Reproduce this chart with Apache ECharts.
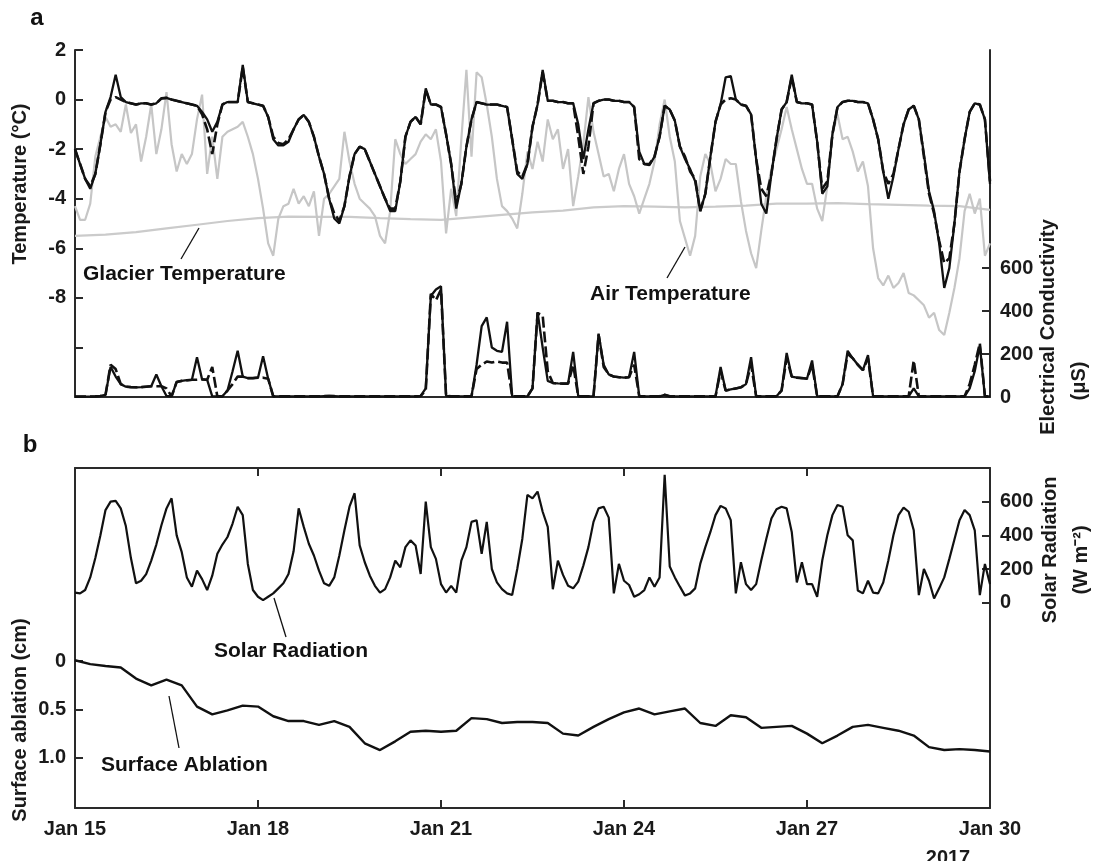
<!DOCTYPE html>
<html>
<head>
<meta charset="utf-8">
<script src="https://cdn.jsdelivr.net/npm/echarts@6/dist/echarts.min.js"></script>
<style>
html,body{margin:0;padding:0;background:#fff;}
#chart{width:1101px;height:861px;}
</style>
</head>
<body>
<div id="chart"></div>
<script>
// x positions in days after Jan 15 2017 00:00
const xTickLabels = ['Jan 15','Jan 18','Jan 21','Jan 24','Jan 27','Jan 30'];
const STEP_2H = 1/12, STEP_6H = 0.25, STEP_12H = 0.5;

// Panel a: temperature sensor (solid) every 2 h, degC
const tempSolid = [-2.0,-2.6,-3.2,-3.6,-3.0,-1.8,-0.5,0.1,1.0,0.1,
 -0.1,-0.15,-0.2,-0.15,-0.15,-0.2,-0.15,0.05,0.07,0.0,
 -0.05,-0.1,-0.15,-0.2,-0.25,-0.5,-0.8,-1.3,-0.9,-0.2,
 -0.1,-0.1,-0.1,1.4,-0.1,-0.15,-0.2,-0.25,-0.7,-1.6,
 -1.85,-1.85,-1.7,-1.2,-0.8,-0.62,-0.9,-1.5,-2.3,-3.0,
 -4.0,-4.8,-5.0,-4.3,-3.1,-2.2,-1.9,-2.0,-2.5,-3.0,
 -3.5,-4.0,-4.5,-4.5,-3.3,-1.5,-0.9,-0.7,-1.0,0.45,
 -0.2,-0.2,-0.3,-1.4,-2.6,-4.4,-3.4,-1.9,-0.8,-0.1,
 -0.15,-0.2,-0.2,-0.2,-0.25,-0.3,-1.6,-3.0,-3.2,-2.6,
 -1.1,-0.2,1.2,-0.05,-0.05,-0.1,-0.1,-0.15,-0.15,-1.0,
 -2.4,-1.2,-0.15,-0.05,0.0,0.0,-0.05,-0.05,-0.1,-0.1,
 -0.3,-2.1,-2.6,-2.65,-2.3,-1.5,-0.25,-0.4,-0.85,-1.9,
 -2.4,-2.8,-3.3,-4.5,-3.8,-2.3,-0.9,-0.2,0.9,0.95,
 0.0,-0.2,-0.25,-0.6,-2.4,-4.2,-4.6,-3.0,-1.6,-0.4,
 -0.1,1.0,-0.1,-0.15,-0.15,-0.2,-1.7,-3.8,-3.5,-1.4,
 -0.3,-0.1,-0.05,-0.05,-0.1,-0.1,-0.15,-0.8,-1.6,-2.9,
 -4.0,-3.1,-2.0,-1.0,-0.4,-0.25,-0.8,-2.2,-3.7,-4.5,
 -5.8,-7.6,-6.8,-5.0,-2.9,-1.6,-0.5,-0.15,-0.2,-0.8,
 -3.4];

// Panel a: temperature sensor (dashed) every 2 h, degC
const tempDashed = [-2.0,-2.6,-3.2,-3.5,-3.0,-1.8,-0.5,0.0,0.1,0.0,
 -0.1,-0.15,-0.2,-0.15,-0.15,-0.2,-0.15,0.05,0.07,0.0,
 -0.05,-0.1,-0.15,-0.2,-0.25,-0.6,-1.2,-2.2,-1.0,-0.2,
 -0.1,-0.1,-0.1,1.3,-0.1,-0.15,-0.2,-0.25,-0.7,-1.5,
 -1.75,-1.8,-1.6,-1.2,-0.8,-0.62,-0.9,-1.5,-2.3,-3.0,
 -4.0,-4.6,-4.9,-4.3,-3.1,-2.2,-1.9,-2.0,-2.5,-3.0,
 -3.5,-4.0,-4.4,-4.4,-3.3,-1.5,-0.9,-0.7,-1.0,0.4,
 -0.2,-0.2,-0.3,-1.4,-2.6,-4.2,-3.4,-1.9,-0.8,-0.1,
 -0.15,-0.2,-0.2,-0.2,-0.25,-0.3,-1.6,-2.9,-3.1,-2.6,
 -1.1,-0.2,1.1,-0.05,-0.05,-0.1,-0.1,-0.15,-0.15,-1.5,
 -3.0,-1.9,-0.15,-0.05,0.0,0.0,-0.05,-0.05,-0.1,-0.1,
 -0.3,-2.4,-2.6,-2.6,-2.3,-1.5,-0.25,-0.4,-0.85,-1.9,
 -2.3,-2.9,-3.2,-4.5,-3.8,-2.3,-0.9,-0.2,0.0,0.05,
 0.0,-0.2,-0.25,-0.6,-2.4,-3.6,-3.9,-3.0,-1.6,-0.4,
 -0.1,0.9,-0.1,-0.15,-0.15,-0.2,-1.7,-3.6,-3.3,-1.4,
 -0.3,-0.1,-0.05,-0.05,-0.1,-0.1,-0.15,-0.8,-1.6,-2.9,
 -3.4,-3.0,-2.0,-1.0,-0.4,-0.25,-0.8,-2.3,-3.8,-4.6,
 -5.7,-6.6,-6.4,-5.0,-2.9,-1.6,-0.5,-0.15,-0.2,-0.8,
 -3.3];

// Panel a: air temperature every 2 h, degC
const airTemp = [-4.3,-4.85,-4.85,-4.2,-2.3,-1.5,-0.7,-1.1,-1.0,-1.3,
 -0.2,-1.35,-1.0,-2.5,-1.5,-0.2,-2.2,-1.2,0.3,-1.8,
 -2.9,-2.2,-2.6,-2.2,-0.8,0.2,-3.0,-1.5,-3.2,-1.5,
 -1.3,-1.2,-1.1,-0.9,-1.5,-2.2,-3.2,-4.4,-5.8,-6.3,
 -4.8,-4.3,-4.2,-3.6,-4.2,-3.9,-4.3,-3.7,-5.5,-4.0,
 -3.8,-3.5,-3.2,-1.3,-2.5,-3.4,-4.0,-4.2,-4.4,-4.7,
 -5.5,-5.8,-4.5,-1.6,-2.2,-2.6,-2.4,-2.2,-1.7,-1.4,
 -1.6,-1.2,-2.5,-5.4,-3.6,-4.7,-1.6,1.2,-2.3,1.1,
 0.9,-0.2,-1.5,-3.2,-4.3,-4.5,-4.8,-5.2,-3.8,-2.1,
 -2.8,-1.7,-2.5,-0.8,-1.6,-1.2,-2.8,-2.0,-4.3,-3.1,
 -1.8,0.1,-1.3,-2.2,-3.1,-3.0,-3.7,-2.8,-2.2,-3.4,
 -3.9,-4.6,-4.0,-3.4,-2.5,-1.0,0.0,-1.5,-2.5,-4.9,
 -5.6,-6.3,-5.5,-3.1,-2.2,-2.6,-3.7,-3.2,-2.4,-2.6,
 -2.6,-4.1,-5.3,-6.2,-6.8,-5.3,-3.9,-2.8,-2.0,-1.2,
 -0.3,-1.2,-2.0,-2.8,-3.4,-3.4,-4.4,-4.9,-3.5,-1.4,
 -0.6,-1.6,-1.5,-2.1,-2.9,-2.5,-3.5,-6.0,-7.2,-7.5,
 -7.1,-7.6,-7.4,-7.0,-7.8,-7.9,-8.1,-8.3,-8.8,-8.6,
 -9.3,-9.5,-8.6,-7.6,-6.4,-4.5,-3.8,-4.6,-4.0,-6.3,
 -5.8];

// Panel a: glacier temperature every 12 h, degC
const glacierTemp = [-5.5,-5.45,-5.35,-5.2,-5.05,-4.9,-4.78,-4.72,-4.73,-4.73,
 -4.78,-4.82,-4.85,-4.75,-4.65,-4.55,-4.48,-4.35,-4.3,-4.32,
 -4.35,-4.32,-4.28,-4.2,-4.2,-4.18,-4.22,-4.25,-4.28,-4.3,
 -4.45];

// Panel a: electrical conductivity (solid) every 2 h, uS
const condSolid = [2,2,2,2,3,5,10,140,95,60,
 48,46,45,46,48,50,105,50,5,3,
 70,75,78,80,185,82,80,3,3,3,
 30,120,215,95,88,88,90,190,85,3,
 3,3,3,3,3,3,3,3,3,4,
 5,4,3,3,3,3,3,3,3,3,
 3,3,3,3,3,3,3,3,5,40,
 470,500,515,5,3,3,3,3,3,150,
 330,370,230,215,210,350,3,3,3,3,
 40,395,230,75,65,63,62,62,210,3,
 3,3,3,295,150,105,95,92,90,92,
 210,3,3,3,3,3,10,3,3,3,
 3,3,3,3,3,3,3,140,30,35,
 40,45,60,185,3,3,3,3,3,30,
 205,95,90,88,85,170,3,3,3,3,
 3,60,215,180,150,125,195,3,3,3,
 3,3,3,3,3,40,3,3,3,3,
 3,3,3,3,3,3,40,120,240,3,
 3];

// Panel a: electrical conductivity (dashed) every 2 h, uS
const condDashed = [2,2,2,2,3,5,10,150,130,60,
 48,46,45,46,48,50,50,50,40,3,
 70,75,78,80,80,82,80,140,3,3,
 30,60,95,95,88,88,90,90,85,3,
 3,3,3,3,3,3,3,3,3,4,
 5,4,3,3,3,3,3,3,3,3,
 3,3,3,3,3,3,3,3,5,30,
 480,450,500,5,3,3,3,3,3,130,
 150,165,160,165,160,160,3,3,3,3,
 40,390,380,120,65,63,62,62,150,3,
 3,3,3,290,140,105,95,92,90,92,
 150,3,3,3,3,3,10,3,3,3,
 3,3,3,3,3,3,3,120,30,35,
 40,45,60,150,3,3,3,3,3,30,
 180,95,90,88,85,150,3,3,3,3,
 3,60,200,180,150,125,180,3,3,3,
 3,3,3,3,3,170,3,3,3,3,
 3,3,3,3,3,3,60,150,250,3,
 3];

// Panel b: solar radiation every 2 h, W m-2
const solarRad = [60,55,75,150,265,400,550,600,605,560,
 455,265,115,130,170,250,345,460,560,620,
 400,300,150,95,190,140,75,160,290,345,
 390,470,570,520,230,75,35,15,35,55,
 85,115,170,305,560,450,350,280,190,115,
 100,150,280,430,570,650,340,240,160,100,
 60,80,150,250,210,330,370,340,170,600,
 330,260,110,60,100,60,250,330,480,490,
 290,480,200,120,80,55,45,200,380,640,
 620,660,540,450,80,250,165,100,85,125,
 220,330,480,560,570,505,55,230,130,105,
 35,50,75,150,95,150,760,215,150,95,
 42,55,85,230,330,420,520,575,560,490,
 55,240,110,75,110,250,380,500,555,570,
 560,420,120,240,110,110,35,250,400,520,
 580,570,400,370,72,55,130,60,55,120,
 250,400,520,565,540,430,45,200,130,25,
 85,150,260,375,490,550,520,430,45,230,
 110];

// Panel b: surface ablation every 6 h, cm
const ablation = [-0.01,0.03,0.05,0.065,0.18,0.25,0.19,0.25,0.47,0.55,
 0.51,0.46,0.47,0.57,0.62,0.62,0.66,0.62,0.68,0.85,
 0.92,0.83,0.73,0.72,0.73,0.72,0.59,0.6,0.64,0.63,
 0.63,0.64,0.75,0.77,0.68,0.6,0.53,0.49,0.55,0.52,
 0.49,0.64,0.67,0.56,0.58,0.69,0.68,0.67,0.75,0.85,
 0.77,0.68,0.66,0.69,0.72,0.77,0.89,0.92,0.91,0.92,
 0.935];

const tempLabelVals = [2,0,-2,-4,-6,-8];
const tempTickVals = [2,0,-2,-4,-6,-8,-10];
const condTickVals = [0,200,400,600];
const solarTickVals = [0,200,400,600];
const ablTickVals = [0,0.5,1.0];

function pairs(vals, step){ return vals.map((v,i)=>[i*step, v]); }

const FONT = "'Liberation Sans', Arial, Helvetica, sans-serif";
const AX = '#2a2a2a';
const lab = {fontFamily: FONT, fontWeight:'bold', fontSize:20, color:'#1a1a1a'};
const axLine = {show:true, onZero:false, lineStyle:{color:AX, width:2}};

function line(name, data, xi, yi, color, width, type, z){
  return {name, type:'line', data, xAxisIndex:xi, yAxisIndex:yi, showSymbol:false, symbol:'none',
    lineStyle:{color, width, type}, z: z||2, animation:false};
}

const chart = echarts.init(document.getElementById('chart'), null, {renderer:'canvas'});
const option = {
  animation:false,
  backgroundColor:'#fff',
  grid:[
    {left:75, right:111, top:50, bottom:464},
    {left:75, right:111, top:468, bottom:53}
  ],
  xAxis:[
    {gridIndex:0, type:'value', min:0, max:15, interval:3, axisLine:axLine,
     axisTick:{show:false}, axisLabel:{show:false}, splitLine:{show:false}},
    {gridIndex:1, type:'value', min:0, max:15, interval:3, position:'bottom', axisLine:axLine,
     axisTick:{show:true, inside:true, length:8, lineStyle:{color:AX, width:2}},
     axisLabel:Object.assign({margin:11, formatter:(v)=>xTickLabels[Math.round(v/3)]}, lab),
     splitLine:{show:false}},
    {gridIndex:1, type:'value', min:0, max:15, interval:3, position:'top', axisLine:axLine,
     axisTick:{show:true, inside:true, length:8, lineStyle:{color:AX, width:2}},
     axisLabel:{show:false}, splitLine:{show:false}}
  ],
  yAxis:[
    {gridIndex:0, type:'value', position:'left', min:-12, max:2, interval:2, axisLine:axLine,
     axisTick:{show:true, inside:true, length:8, customValues:tempTickVals, lineStyle:{color:AX, width:2}},
     axisLabel:Object.assign({margin:9, customValues:tempLabelVals}, lab), splitLine:{show:false}},
    {gridIndex:0, type:'value', position:'right', min:0, max:1614, axisLine:axLine,
     axisTick:{show:true, inside:true, length:8, customValues:condTickVals, lineStyle:{color:AX, width:2}},
     axisLabel:Object.assign({margin:10, customValues:condTickVals}, lab), splitLine:{show:false}},
    {gridIndex:1, type:'value', position:'left', inverse:true, min:-2, max:1.52, axisLine:axLine,
     axisTick:{show:true, inside:true, length:8, customValues:ablTickVals, lineStyle:{color:AX, width:2}},
     axisLabel:Object.assign({margin:9, customValues:ablTickVals, formatter:(v)=> v===0 ? '0' : v.toFixed(1)}, lab),
     splitLine:{show:false}},
    {gridIndex:1, type:'value', position:'right', min:-1220, max:800, axisLine:axLine,
     axisTick:{show:true, inside:true, length:8, customValues:solarTickVals, lineStyle:{color:AX, width:2}},
     axisLabel:Object.assign({margin:10, customValues:solarTickVals}, lab), splitLine:{show:false}}
  ],
  series:[
    line('Glacier Temperature', pairs(glacierTemp, STEP_12H), 0, 0, '#cbcbcb', 2.2, 'solid', 1),
    line('Air Temperature', pairs(airTemp, STEP_2H), 0, 0, '#c6c6c6', 2.2, 'solid', 1),
    line('Temperature (solid)', pairs(tempSolid, STEP_2H), 0, 0, '#111', 2.3, 'solid', 3),
    line('Temperature (dashed)', pairs(tempDashed, STEP_2H), 0, 0, '#111', 2.6, [11,4], 3),
    line('Conductivity (solid)', pairs(condSolid, STEP_2H), 0, 1, '#111', 2.3, 'solid', 3),
    line('Conductivity (dashed)', pairs(condDashed, STEP_2H), 0, 1, '#111', 2.6, [11,4], 3),
    line('Solar Radiation', pairs(solarRad, STEP_2H), 1, 3, '#111', 2.2, 'solid', 3),
    line('Surface Ablation', pairs(ablation, STEP_6H), 1, 2, '#111', 2.4, 'solid', 3)
  ],
  graphic:[
    {type:'text', x:37, y:18, style:{text:'a', font:"bold 24px "+FONT, fill:'#111', align:'center', verticalAlign:'middle'}},
    {type:'text', x:30, y:445, style:{text:'b', font:"bold 24px "+FONT, fill:'#111', align:'center', verticalAlign:'middle'}},
    {type:'text', x:20, y:184, rotation:Math.PI/2, style:{text:'Temperature (°C)', font:"bold 20px "+FONT, fill:'#1a1a1a', align:'center', verticalAlign:'middle'}},
    {type:'text', x:20, y:720, rotation:Math.PI/2, style:{text:'Surface ablation (cm)', font:"bold 20px "+FONT, fill:'#1a1a1a', align:'center', verticalAlign:'middle'}},
    {type:'text', x:1048, y:327, rotation:Math.PI/2, style:{text:'Electrical Conductivity', font:"bold 20px "+FONT, fill:'#1a1a1a', align:'center', verticalAlign:'middle'}},
    {type:'text', x:1079, y:381, rotation:Math.PI/2, style:{text:'(μS)', font:"bold 20px "+FONT, fill:'#1a1a1a', align:'center', verticalAlign:'middle'}},
    {type:'text', x:1050, y:550, rotation:Math.PI/2, style:{text:'Solar Radiation', font:"bold 20px "+FONT, fill:'#1a1a1a', align:'center', verticalAlign:'middle'}},
    {type:'text', x:1081, y:560, rotation:Math.PI/2, style:{text:'(W m⁻²)', font:"bold 20px "+FONT, fill:'#1a1a1a', align:'center', verticalAlign:'middle'}},
    {type:'text', x:948, y:858, style:{text:'2017', font:"bold 20px "+FONT, fill:'#1a1a1a', align:'center', verticalAlign:'middle'}},
    {type:'text', x:83, y:274, style:{text:'Glacier Temperature', font:"bold 21px "+FONT, fill:'#111', align:'left', verticalAlign:'middle'}},
    {type:'line', shape:{x1:181, y1:259, x2:199, y2:228}, style:{stroke:'#111', lineWidth:1.3}},
    {type:'text', x:590, y:294, style:{text:'Air Temperature', font:"bold 21px "+FONT, fill:'#111', align:'left', verticalAlign:'middle'}},
    {type:'line', shape:{x1:667, y1:278, x2:685, y2:247}, style:{stroke:'#111', lineWidth:1.3}},
    {type:'text', x:214, y:651, style:{text:'Solar Radiation', font:"bold 21px "+FONT, fill:'#111', align:'left', verticalAlign:'middle'}},
    {type:'line', shape:{x1:286, y1:637, x2:274, y2:598}, style:{stroke:'#111', lineWidth:1.3}},
    {type:'text', x:101, y:765, style:{text:'Surface Ablation', font:"bold 21px "+FONT, fill:'#111', align:'left', verticalAlign:'middle'}},
    {type:'line', shape:{x1:179, y1:748, x2:169, y2:696}, style:{stroke:'#111', lineWidth:1.3}}
  ]
};
chart.setOption(option);
</script>
</body>
</html>
